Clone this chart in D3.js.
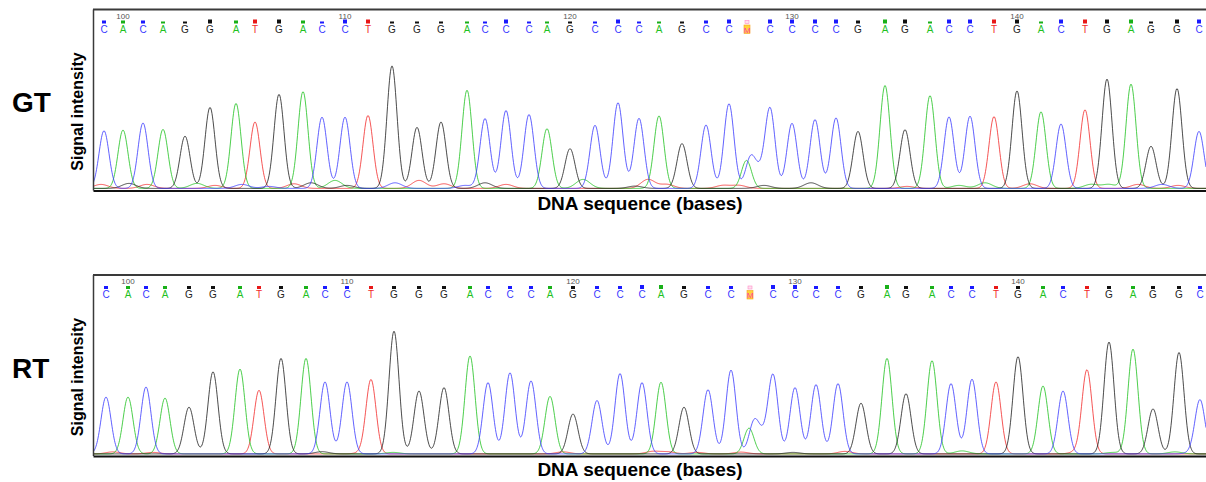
<!DOCTYPE html>
<html>
<head>
<meta charset="utf-8">
<title>Chromatogram GT / RT</title>
<script src="https://d3js.org/d3.v7.min.js"></script>
<style>
  body, html { margin: 0; padding: 0; background: #fff; overflow: hidden; }
  svg { display: block; background: #fff; }
  text { font-family: "Liberation Sans", Arial, Helvetica, sans-serif; }
</style>
</head>
<body>
<svg id="chart"></svg>
<script>
// base calls from position 99
var bases = "CACAGGATGACCTGGGACCCAGCCCAGCCMCCCCGAGACCTGACTGAGGC".split("");
var firstBase = 99;
var tickBases = [100, 110, 120, 130, 140];

// quality marks above the calls
var qualGT = [3,3,3,2,2,4,3,4,4,3, 2,4,4,2,2,2,2,2,4,2, 2,2,2,4,2,2,2,3,4,2, 4,4,4,4,3,4,4,2,4,4, 4,4,2,4,4,4,4,2,4,4];
var qualRT = [3,3,3,3,3,3,3,3,3,3, 3,3,3,3,3,3,3,3,3,3, 3,3,3,3,4,4,3,3,3,2, 4,4,3,3,3,4,3,3,3,3, 3,3,3,3,3,3,3,3,3,3];

// peak positions (scan) and heights (signal)
var scanGT = [11,30,50,70,92,117,143,162,186,210, 229,252,275,299,324,348,374,392,413,436, 454,477,502,525,546,566,589,613,636,654, 677,699,722,743,765,792,812,837,856,877, 901,924,948,968,992,1014,1038,1058,1084,1106];
var heightGT = [576,583,654,590,522,810,850,664,941,968, 712,712,729,1225,610,664,982,698,779,739, 597,397,631,857,701,725,448,634,847,0, 800,651,688,705,570,1029,587,928,715,722, 718,975,766,644,786,1093,1043,421,999,570];
var scanRT = [13,35,53,72,96,120,147,166,188,213, 232,254,278,301,326,351,377,395,417,438, 457,480,504,527,549,568,591,615,638,657, 680,702,723,745,768,794,813,839,858,879, 903,925,950,970,994,1016,1040,1060,1086,1107];
var heightRT = [568,568,669,558,467,821,848,636,956,956, 720,720,737,1227,629,663,980,713,811,730, 575,399,534,804,713,717,467,642,838,0, 788,663,693,703,507,956,602,933,703,747, 720,973,679,629,831,1119,1048,450,1014,534];

// mixed A/C peaks under the M call
var mixGT = [["A",653.5,280],["C",657.5,300],["C",666,130]];
var mixRT = [["A",656,257],["C",661,310],["C",669,130]];

// small background peaks
var noiseGT = [["T",8,40],["G",36,50],["T",54,40],["A",104,50],["T",122,30],["C",149,40],["C",176,20],["T",201,46],["G",218,56],["A",242,80],["G",254,30],["C",302,56],["T",326,80],["T",351,46],["C",372,30],["G",392,56],["T",413,40],["A",490,90],["G",542,23],["T",555,90],["T",574,40],["T",630,30],["T",646,30],["G",671,30],["G",718,56],["T",814,20],["A",866,30],["A",892,56],["T",937,46],["A",998,40],["A",1016,40],["T",1045,40],["C",1069,40],["T",1085,30]];
var noiseRT = [["T",20,20],["T",60,15],["G",229,22],["T",270,15],["A",300,15],["T",470,20],["T",560,25],["T",575,20],["T",604,15],["T",648,18],["G",700,15],["T",752,25],["A",869,30],["T",985,25],["A",1020,15],["A",1082,20],["C",1100,15]];

var W = 1206, H = 482;
var colors = { A: "#1fc21f", C: "#3a3aff", G: "#1e1e1e", T: "#f22a2a" };
var markColors = { A: "#19b019", C: "#1a1aff", G: "#111", T: "#e81818" };
var sigma = 5, noiseSigma = 7;

var svg = d3.select("#chart").attr("width", W).attr("height", H);

var x = d3.scaleLinear().domain([0, 1113]).range([93, 1206]);

var panels = [
  { name: "GT", bottom: 190.5, scan: scanGT, height: heightGT, qual: qualGT, mix: mixGT, noise: noiseGT },
  { name: "RT", bottom: 456, scan: scanRT, height: heightRT, qual: qualRT, mix: mixRT, noise: noiseRT }
];

var samples = d3.range(0, 1113.5, 0.5);

panels.forEach(function(p, pi) {
  var top = p.bottom - 181;
  var y = d3.scaleLinear().domain([0, 1800]).range([p.bottom - 1.5, p.bottom - 181.5]);

  // peaks for each channel
  var peaks = { A: [], C: [], G: [], T: [] };
  bases.forEach(function(b, i) {
    if (peaks[b]) peaks[b].push([p.scan[i], p.height[i], sigma]);
  });
  p.mix.forEach(function(m) { peaks[m[0]].push([m[1], m[2], sigma]); });
  p.noise.forEach(function(m) { peaks[m[0]].push([m[1], m[2], noiseSigma]); });

  var clipId = "clip" + pi;
  svg.append("clipPath").attr("id", clipId)
    .append("rect")
    .attr("x", 93).attr("y", top).attr("width", W - 93).attr("height", p.bottom - top);

  var line = d3.line()
    .x(function(d) { return x(d[0]); })
    .y(function(d) { return y(d[1]); });

  var traces = svg.append("g").attr("clip-path", "url(#" + clipId + ")");
  ["T", "A", "G", "C"].forEach(function(ch) {
    var pts = samples.map(function(s) {
      var v = 6;
      peaks[ch].forEach(function(k) {
        var d = s - k[0];
        v += k[1] * Math.exp(-d * d / (2 * k[2] * k[2]));
      });
      return [s, v];
    });
    traces.append("path")
      .datum(pts)
      .attr("d", line)
      .attr("fill", "none")
      .attr("stroke", colors[ch])
      .attr("stroke-opacity", 0.8)
      .attr("stroke-width", 1);
  });

  // frame
  svg.append("line")
    .attr("x1", 93).attr("x2", W).attr("y1", top).attr("y2", top)
    .attr("stroke", "#3a3a3a").attr("stroke-width", 2);
  svg.append("line")
    .attr("x1", 93.5).attr("x2", 93.5).attr("y1", top).attr("y2", p.bottom)
    .attr("stroke", "#3a3a3a").attr("stroke-width", 1.5);

  var axis = svg.append("g")
    .attr("transform", "translate(0," + p.bottom + ")")
    .call(d3.axisBottom(x).tickValues([]).tickSizeOuter(0));
  axis.select(".domain").attr("stroke", "#111").attr("stroke-width", 2);

  // base call header
  var head = svg.append("g");
  tickBases.forEach(function(b) {
    head.append("text")
      .attr("x", x(p.scan[b - firstBase]))
      .attr("y", top + 9)
      .attr("text-anchor", "middle")
      .style("font-size", "8px")
      .attr("fill", "#555")
      .text(b);
  });

  bases.forEach(function(b, i) {
    var cx = x(p.scan[i]);
    var q = p.qual[i];
    if (b === "M") {
      head.append("rect")
        .attr("x", cx - 2).attr("y", top + 14 - q - 1).attr("width", 4).attr("height", q + 1)
        .attr("fill", "#ffe0ef").attr("stroke", "#ff8cc6").attr("stroke-width", 0.6);
      head.append("rect")
        .attr("x", cx - 3).attr("y", top + 15.5).attr("width", 6).attr("height", 8.5)
        .attr("fill", "#ffd23c").attr("stroke", "#f3a21c").attr("stroke-width", 0.6);
      head.append("text")
        .attr("x", cx).attr("y", top + 23)
        .attr("text-anchor", "middle")
        .style("font-size", "8px")
        .attr("fill", "#ff3aa8")
        .text(b);
      return;
    }
    head.append("rect")
      .attr("x", cx - 2).attr("y", top + 14 - q).attr("width", 4).attr("height", q)
      .attr("fill", markColors[b]);
    head.append("text")
      .attr("x", cx).attr("y", top + 23)
      .attr("text-anchor", "middle")
      .style("font-size", "10px")
      .attr("fill", colors[b])
      .text(b);
  });

  // labels
  svg.append("text")
    .attr("x", 12).attr("y", p.bottom - 78.5)
    .style("font-size", "28px").style("font-weight", "bold")
    .attr("fill", "#000")
    .text(p.name);

  svg.append("text")
    .attr("transform", "translate(83," + (top + 102) + ") rotate(-90)")
    .attr("text-anchor", "middle")
    .style("font-size", "16px").style("font-weight", "bold")
    .attr("fill", "#000")
    .text("Signal intensity");

  svg.append("text")
    .attr("x", 640).attr("y", p.bottom + 19.5)
    .attr("text-anchor", "middle")
    .style("font-size", "19px").style("font-weight", "bold")
    .attr("fill", "#000")
    .text("DNA sequence (bases)");
});
</script>
</body>
</html>
